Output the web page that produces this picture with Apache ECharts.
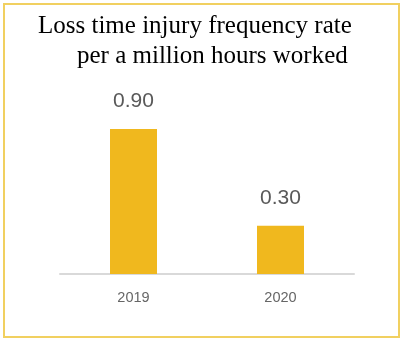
<!DOCTYPE html>
<html>
<head>
<meta charset="utf-8">
<style>
  html, body { margin: 0; padding: 0; background: #ffffff; }
  #chart { width: 402px; height: 340px; }
</style>
<script src="https://cdn.jsdelivr.net/npm/echarts@6/dist/echarts.min.js"></script>
</head>
<body>
<div id="chart"></div>
<script>
// Lost-time injury frequency rate, per million hours worked
const years = ['2019', '2020'];
const ltifr = [0.90, 0.30];
const titleLines = ['Loss time injury frequency rate', 'per a million hours worked'];

const chart = echarts.init(document.getElementById('chart'), null, { renderer: 'canvas' });

chart.setOption({
  backgroundColor: '#ffffff',
  animation: false,
  graphic: [
    {
      type: 'rect',
      shape: { x: 4, y: 4, width: 395, height: 333 },
      style: { fill: 'none', stroke: '#f1d060', lineWidth: 2 },
      silent: true
    },
    {
      type: 'text',
      left: 38, top: 14,
      style: { text: titleLines[0], font: '25px "Liberation Serif", "Times New Roman", serif', fill: '#000000' }
    },
    {
      type: 'text',
      left: 77, top: 44,
      style: { text: titleLines[1], font: '25px "Liberation Serif", "Times New Roman", serif', fill: '#000000' }
    }
  ],
  grid: { left: 60, right: 48, top: 113, bottom: 66 },
  xAxis: {
    type: 'category',
    data: years,
    axisLine: { show: true, lineStyle: { color: '#d9d9d9', width: 2 } },
    axisTick: { show: false },
    axisLabel: {
      color: '#666666',
      fontSize: 14.5,
      fontFamily: '"Liberation Sans", Arial, sans-serif',
      margin: 16
    }
  },
  yAxis: {
    type: 'value',
    min: 0,
    max: 1,
    show: false,
    splitLine: { show: false }
  },
  series: [{
    type: 'bar',
    data: ltifr,
    barWidth: 47,
    itemStyle: { color: '#f0b81e' },
    label: {
      show: true,
      position: 'top',
      distance: 17,
      color: '#595959',
      fontSize: 21,
      fontFamily: '"Liberation Sans", Arial, sans-serif',
      formatter: p => p.value.toFixed(2)
    }
  }]
});
</script>
</body>
</html>
